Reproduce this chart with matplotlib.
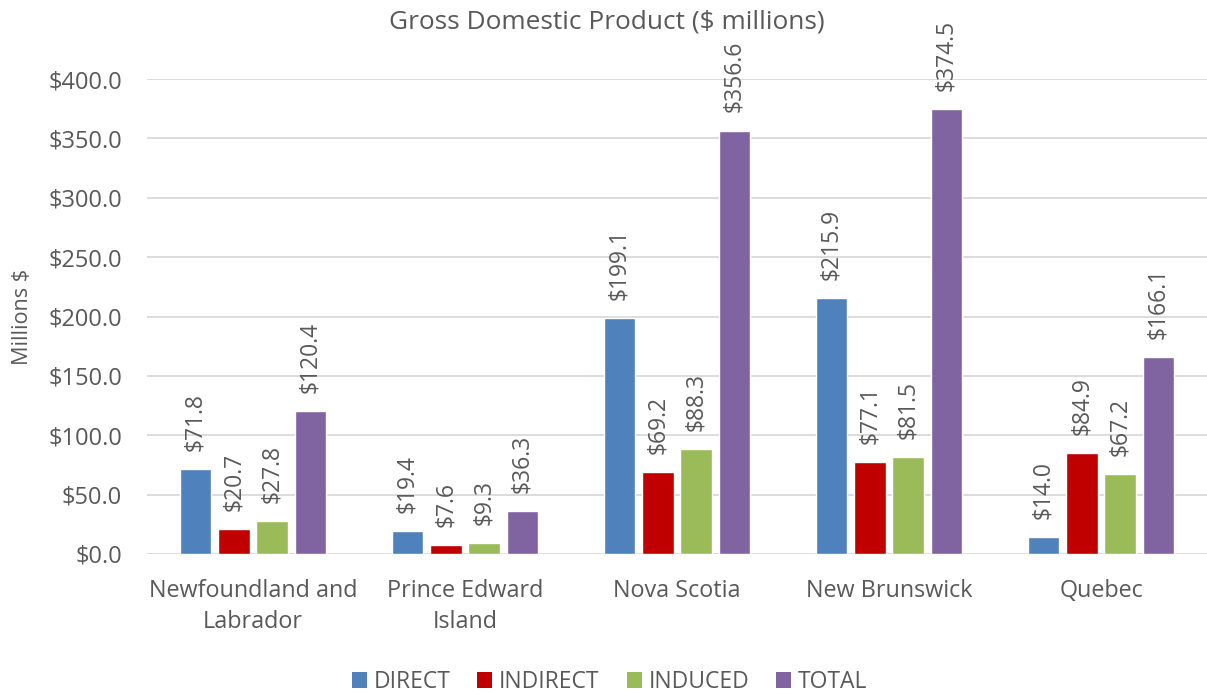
import matplotlib
matplotlib.use("Agg")
import matplotlib.pyplot as plt
import numpy as np
from matplotlib.patches import Patch

plt.rcParams['font.family'] = ['Open Sans', 'DejaVu Sans']

provinces = ["Newfoundland and\nLabrador", "Prince Edward\nIsland", "Nova Scotia",
             "New Brunswick", "Quebec"]
series_names = ["DIRECT", "INDIRECT", "INDUCED", "TOTAL"]
direct = [71.8, 19.4, 199.1, 215.9, 14.0]
indirect = [20.7, 7.6, 69.2, 77.1, 84.9]
induced = [27.8, 9.3, 88.3, 81.5, 67.2]
total = [120.4, 36.3, 356.6, 374.5, 166.1]
colors = ["#4F81BD", "#C00000", "#9BBB59", "#8064A2"]
yticks = [0, 50, 100, 150, 200, 250, 300, 350, 400]

text_color = "#595959"
grid_color = "#D9D9D9"

fig = plt.figure(figsize=(12.07, 6.95), dpi=100)
ax = fig.add_axes([0.1218, 0.2029, 0.8782, 0.6834])

x = np.arange(len(provinces))
slot = 0.181
width = 0.15
data = [direct, indirect, induced, total]
for i, (vals, col) in enumerate(zip(data, colors)):
    pos = x + (i - 1.5) * slot
    ax.bar(pos, vals, width=width, color=col, edgecolor="white", linewidth=1, zorder=3)
    for px, v in zip(pos, vals):
        ax.annotate(f"${v:.1f}", xy=(px, v), xytext=(0, 13), textcoords="offset points",
                    rotation=90, ha="center", va="bottom", fontsize=16.5,
                    color=text_color, annotation_clip=False)

ax.set_xlim(-0.5, len(provinces) - 0.5)
ax.set_ylim(0, 400)
ax.set_yticks(yticks)
ax.set_yticklabels([f"${t:.1f}" for t in yticks])
ax.set_xticks(x)
ax.set_xticklabels(provinces, linespacing=1.4)
ax.tick_params(axis="both", length=0, colors=text_color)
ax.tick_params(axis="x", pad=18, labelsize=16.8)
ax.tick_params(axis="y", pad=18, labelsize=17)
ax.yaxis.grid(True, color=grid_color, linewidth=1.3, zorder=0)
ax.set_axisbelow(True)
for s in ax.spines.values():
    s.set_visible(False)

fig.text(0.019, 0.544, "Millions $", rotation=90, ha="center", va="center",
         fontsize=15.6, color=text_color)
fig.text(0.503, 0.968, "Gross Domestic Product ($ millions)", ha="center", va="center",
         fontsize=18.9, color=text_color)

handles = [Patch(facecolor=c, edgecolor="none") for c in colors]
fig.legend(handles, series_names, loc="center", bbox_to_anchor=(0.505, 0.0187),
           ncol=4, frameon=False, fontsize=16.5, labelcolor=text_color,
           handlelength=0.65, handleheight=0.65, handletextpad=0.3, columnspacing=1.18)

fig.savefig("out.png", dpi=100)
